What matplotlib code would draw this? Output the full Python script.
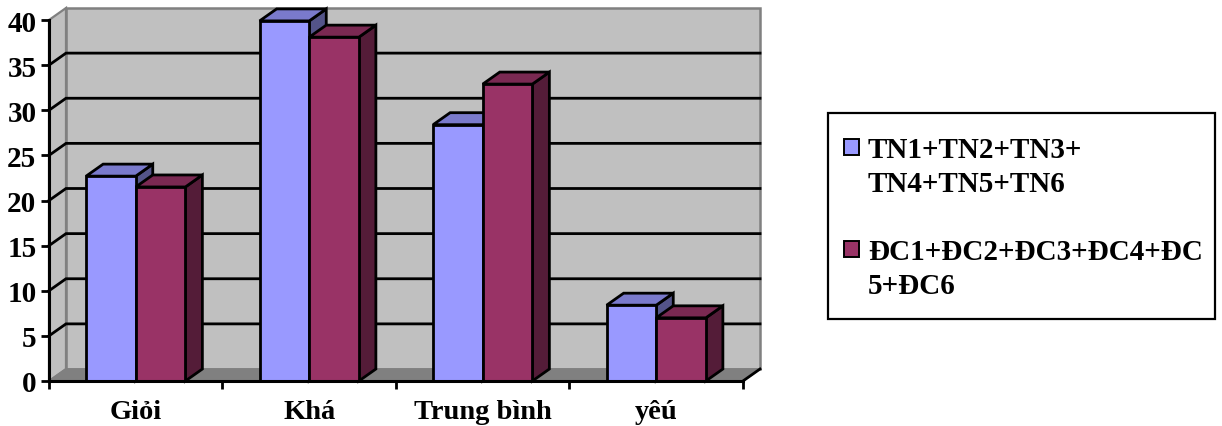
import matplotlib
matplotlib.use("Agg")
import matplotlib.pyplot as plt
from matplotlib.patches import Polygon, Rectangle

# ---- data ----
categories = ["Giỏi", "Khá", "Trung bình", "yêú"]
series_names = ["TN1+TN2+TN3+\nTN4+TN5+TN6", "ĐC1+ĐC2+ĐC3+ĐC4+ĐC\n5+ĐC6"]
tn_values = [22.7, 39.9, 28.4, 8.4]
dc_values = [21.5, 38.1, 32.9, 7.0]
y_ticks = [0, 5, 10, 15, 20, 25, 30, 35, 40]

# ---- style ----
FONT = "Liberation Serif"
front_colors = ["#9999FF", "#993366"]
top_colors = ["#7A7ACC", "#7A2952"]
side_colors = ["#545489", "#541C38"]
WALL = "#C0C0C0"
FLOOR = "#808080"
EDGE_GRAY = "#808080"
LW = 2.0

W, H = 1222, 427
fig = plt.figure(figsize=(W / 100, H / 100), dpi=100)
fig.patch.set_facecolor("white")

ax_left, ax_right, ax_top, ax_bottom = 49, 743, 21, 382
ax = fig.add_axes([ax_left / W, (H - ax_bottom) / H,
                   (ax_right - ax_left) / W, (ax_bottom - ax_top) / H])
ncat = len(categories)
ymax = 40
ax.set_xlim(0, ncat)
ax.set_ylim(0, ymax)
ax.patch.set_visible(False)

# depth offset of the 3D box, in pixels -> data units
depth_px_x, depth_px_y = 17, 12
DX = depth_px_x * ncat / (ax_right - ax_left)
DY = depth_px_y * ymax / (ax_bottom - ax_top)

def poly(pts, fc, ec="black", lw=LW, z=1):
    p = Polygon(pts, closed=True, facecolor=fc, edgecolor=ec, linewidth=lw,
                zorder=z, clip_on=False, joinstyle="miter")
    ax.add_patch(p)

# back wall
poly([(DX, DY), (ncat + DX, DY), (ncat + DX, ymax + DY), (DX, ymax + DY)],
     WALL, ec=EDGE_GRAY, lw=1.8, z=0.5)
# left side wall
poly([(0, 0), (DX, DY), (DX, ymax + DY), (0, ymax)], WALL, ec=EDGE_GRAY, lw=1.6, z=0.5)
# floor
poly([(0, 0), (ncat, 0), (ncat + DX, DY), (DX, DY)], FLOOR, ec=EDGE_GRAY, lw=1.2, z=0.6)
ax.plot([ncat, ncat + DX], [0, DY], color="black", lw=LW, zorder=0.7, clip_on=False)

# gridlines on back and side walls
for v in y_ticks[1:-1]:
    ax.plot([0, DX, ncat + DX], [v, v + DY, v + DY], color="black", lw=LW,
            zorder=0.8, clip_on=False, solid_joinstyle="miter")

# bars
bar_w = 0.286
for i in range(ncat):
    center = i + 0.5
    for s, vals in enumerate([tn_values, dc_values]):
        x0 = center - bar_w + s * bar_w
        x1 = x0 + bar_w
        h = vals[i]
        # side face
        poly([(x1, 0), (x1 + DX, DY), (x1 + DX, h + DY), (x1, h)], side_colors[s], z=2)
        # top face
        poly([(x0, h), (x1, h), (x1 + DX, h + DY), (x0 + DX, h + DY)], top_colors[s], z=2)
        # front face
        ax.bar(x0, h, width=bar_w, align="edge", color=front_colors[s],
               edgecolor="black", linewidth=LW, zorder=2)

# axes
for side in ["top", "right"]:
    ax.spines[side].set_visible(False)
for side in ["left", "bottom"]:
    ax.spines[side].set_linewidth(2.2)
    ax.spines[side].set_color("black")
    ax.spines[side].set_zorder(3)

ax.set_yticks(y_ticks)
ax.set_yticklabels([str(t) for t in y_ticks])
ax.set_xticks(range(ncat + 1))
ax.set_xticklabels([])
ax.set_xticks([i + 0.5 for i in range(ncat)], minor=True)
ax.set_xticklabels(categories, minor=True)
ax.tick_params(axis="y", direction="out", length=6, width=LW, pad=3,
               labelsize=21)
ax.tick_params(axis="x", which="major", direction="out", length=6, width=LW)
ax.tick_params(axis="x", which="minor", length=0, pad=13, labelsize=20.5)
for lab in ax.get_yticklabels() + ax.get_xticklabels(minor=True):
    lab.set_fontfamily(FONT)
    lab.set_fontweight("bold")

# legend box
def px_to_fig(x, y):
    return x / W, 1 - y / H

lx0, ly0, lx1, ly1 = 828, 114, 1215, 320
fx, fy = px_to_fig(lx0, ly1)
fig.patches.append(Rectangle((fx, fy), (lx1 - lx0) / W, (ly1 - ly0) / H,
                             transform=fig.transFigure, facecolor="white",
                             edgecolor="black", linewidth=1.6))
first_baselines = [158, 260]
line_gap = 34
for s, name in enumerate(series_names):
    b0 = first_baselines[s]
    sx, sy = px_to_fig(844, b0 - 2)
    fig.patches.append(Rectangle((sx, sy), 15 / W, 16 / H, transform=fig.transFigure,
                                 facecolor=front_colors[s], edgecolor="black",
                                 linewidth=1.4))
    for k, line in enumerate(name.split("\n")):
        tx, ty = px_to_fig(868, b0 + k * line_gap)
        fig.text(tx, ty, line, fontsize=21, fontweight="bold", fontfamily=FONT,
                 ha="left", va="baseline")

fig.savefig("out.png", dpi=100)
